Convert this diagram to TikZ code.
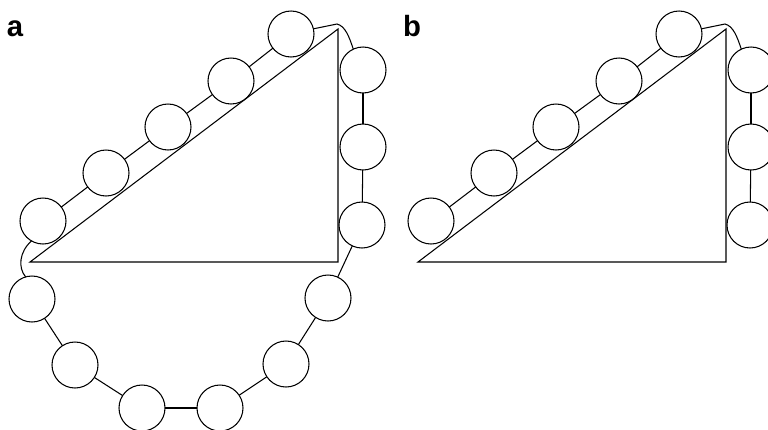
\documentclass[tikz,border=0pt]{standalone}
\usepackage{fontspec}
\setsansfont{Liberation Sans}
\usepackage{tikz}
\usetikzlibrary{shapes,arrows}

\begin{document}
\begin{tikzpicture}[bead/.style={draw, circle, minimum size=13.8mm, inner sep=0pt, outer sep=0pt}, panel/.style={font=\sffamily\bfseries\fontsize{25}{25}\selectfont, anchor=base, inner sep=0pt}, x=0.3mm, y=-0.3mm, line width=0.9pt]
	\useasboundingbox (0,0) rectangle (768,429);
	\clip (0,0) rectangle (768,429);
	% Teil a
	\node[panel] (labA) at (15,36) {a};
	\coordinate (A1) at (30,262);
	\coordinate (A2) at (338,262);
	\coordinate (A3) at (338,29);
	\coordinate (kinkA) at (337,24);
	\draw (A1) -- (A2) -- (A3) -- cycle;
	\node[bead] (a1) at (43,221) {};
	\node[bead] (a2) at (106,173) {};
	\node[bead] (a3) at (168,127) {};
	\node[bead] (a4) at (231,81) {};
	\node[bead] (a5) at (291,34) {};
	\node[bead] (a6) at (363,70) {};
	\node[bead] (a7) at (363,147) {};
	\node[bead] (a8) at (362,225) {};
	\node[bead] (a9) at (328,298) {};
	\node[bead] (a10) at (286,364) {};
	\node[bead] (a11) at (220,408) {};
	\node[bead] (a12) at (142,408) {};
	\node[bead] (a13) at (75,365) {};
	\node[bead] (a14) at (32,299) {};
	\draw (a1) -- (a2);
	\draw (a2) -- (a3);
	\draw (a3) -- (a4);
	\draw (a4) -- (a5);
	\draw (a5.13) -- (kinkA) .. controls (345,26) and (349,36) .. (a6.115);
	\draw (a6) -- (a7);
	\draw (a7) -- (a8);
	\draw (a8) -- (a9);
	\draw (a9) -- (a10);
	\draw (a10) -- (a11);
	\draw (a11) -- (a12);
	\draw (a12) -- (a13);
	\draw (a13) -- (a14);
	\draw (a1.240) .. controls (19,252) and (18,268) .. (a14.106); % Schlaufe um die Ecke
	% Teil b
	\node[panel] (labB) at (412,36) {b};
	\coordinate (B1) at (418,262);
	\coordinate (B2) at (726,262);
	\coordinate (B3) at (726,29);
	\coordinate (kinkB) at (725,24);
	\draw (B1) -- (B2) -- (B3) -- cycle;
	\node[bead] (b1) at (431,221) {};
	\node[bead] (b2) at (494,173) {};
	\node[bead] (b3) at (556,127) {};
	\node[bead] (b4) at (619,81) {};
	\node[bead] (b5) at (679,34) {};
	\node[bead] (b6) at (751,70) {};
	\node[bead] (b7) at (751,147) {};
	\node[bead] (b8) at (750,225) {};
	\draw (b1) -- (b2);
	\draw (b2) -- (b3);
	\draw (b3) -- (b4);
	\draw (b4) -- (b5);
	\draw (b5.13) -- (kinkB) .. controls (733,26) and (737,36) .. (b6.115);
	\draw (b6) -- (b7);
	\draw (b7) -- (b8);
\end{tikzpicture}
\end{document}
